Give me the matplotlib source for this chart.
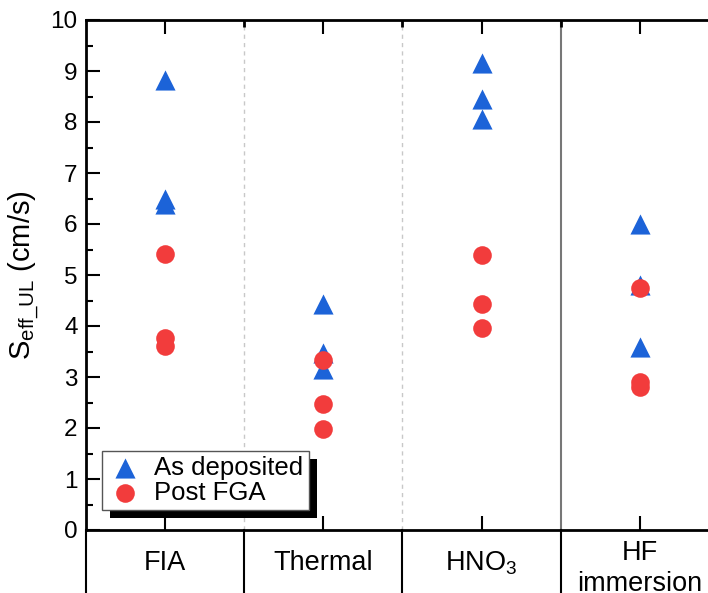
import matplotlib.pyplot as plt
import matplotlib.patheffects as pe
import numpy as np

plt.rcParams['font.family'] = ['Liberation Sans', 'DejaVu Sans']
plt.rcParams['mathtext.fontset'] = 'custom'
plt.rcParams['mathtext.rm'] = 'Liberation Sans'
plt.rcParams['mathtext.it'] = 'Liberation Sans'

categories = ['FIA', 'Thermal', 'HNO$_3$', 'HF\nimmersion']

as_dep = [[8.82, 6.49, 6.39],
          [4.43, 3.47, 3.15],
          [9.15, 8.45, 8.05],
          [6.00, 4.80, 3.58]]
post_fga = [[5.41, 3.76, 3.61],
            [3.33, 2.47, 1.98],
            [5.40, 4.43, 3.97],
            [4.75, 2.90, 2.80]]

blue = '#1c63d8'
red = '#f23c3c'

fig = plt.figure(figsize=(7.08, 5.93), dpi=100)
ax = fig.add_axes([86/708, 63/593, 633/708, 510/593])

for i in range(len(categories)):
    ax.scatter([i]*len(as_dep[i]), as_dep[i], marker='^', s=210, color=blue,
               linewidths=0, zorder=3, label='As deposited' if i == 0 else None)
for i in range(len(categories)):
    ax.scatter([i]*len(post_fga[i]), post_fga[i], marker='o', s=180, color=red,
               linewidths=0, zorder=4, label='Post FGA' if i == 0 else None)

ax.set_xlim(-0.5, 3.5)
ax.set_ylim(0, 10)
ax.set_yticks(range(0, 11))
ax.set_yticks(np.arange(0.5, 10, 1), minor=True)
ax.set_xticks(range(4))
ax.set_xticklabels([])
ax.tick_params(axis='y', which='major', direction='in', length=10, width=1.5, labelsize=17.5, pad=6)
ax.tick_params(axis='y', which='minor', direction='in', length=5, width=1.5)
ax.tick_params(axis='x', which='major', direction='in', length=10, width=1.5, top=True)
ax.set_xticks([0.5, 1.5, 2.5], minor=True)
ax.tick_params(axis='x', which='minor', direction='in', length=5, width=2, top=True, bottom=False)
for s in ['left', 'bottom', 'top']:
    ax.spines[s].set_linewidth(2)
ax.spines['right'].set_visible(False)

ax.set_ylabel('S$_{\\mathregular{eff\\_UL}}$ (cm/s)', fontsize=21, labelpad=6)

# dividers inside the plot
ax.axvline(0.5, color='#c8c8c8', lw=1, ls=(0, (3, 3)), zorder=1)
ax.axvline(1.5, color='#c8c8c8', lw=1, ls=(0, (3, 3)), zorder=1)
ax.axvline(2.5, color='#777777', lw=1.5, zorder=1)

# table-like lines below the axis
for xd in [-0.5, 0.5, 1.5, 2.5]:
    ax.plot([xd, xd], [0, -1.4], color='black', lw=1.5, clip_on=False)
for i, c in enumerate(categories):
    lines = c.split('\n')
    if len(lines) == 2:
        ax.text(i, -0.45, lines[0], ha='center', va='center', fontsize=19.5, clip_on=False)
        ax.text(i, -1.06, lines[1], ha='center', va='center', fontsize=19.5, clip_on=False)
    else:
        ax.text(i, -0.65, c, ha='center', va='center', fontsize=19.5, clip_on=False)

leg = ax.legend(loc='lower left', bbox_to_anchor=(0.025, 0.039), fontsize=18.5,
                frameon=True, fancybox=False, framealpha=1,
                handletextpad=0.45, borderpad=0.2, labelspacing=0.05,
                handlelength=1.4, borderaxespad=0, edgecolor='#555555')
leg.get_frame().set_linewidth(1)
leg.get_frame().set_path_effects([pe.SimplePatchShadow(offset=(6, -6), shadow_rgbFace='black', alpha=1),
                                  pe.Normal()])

plt.savefig('out.png', dpi=100)
